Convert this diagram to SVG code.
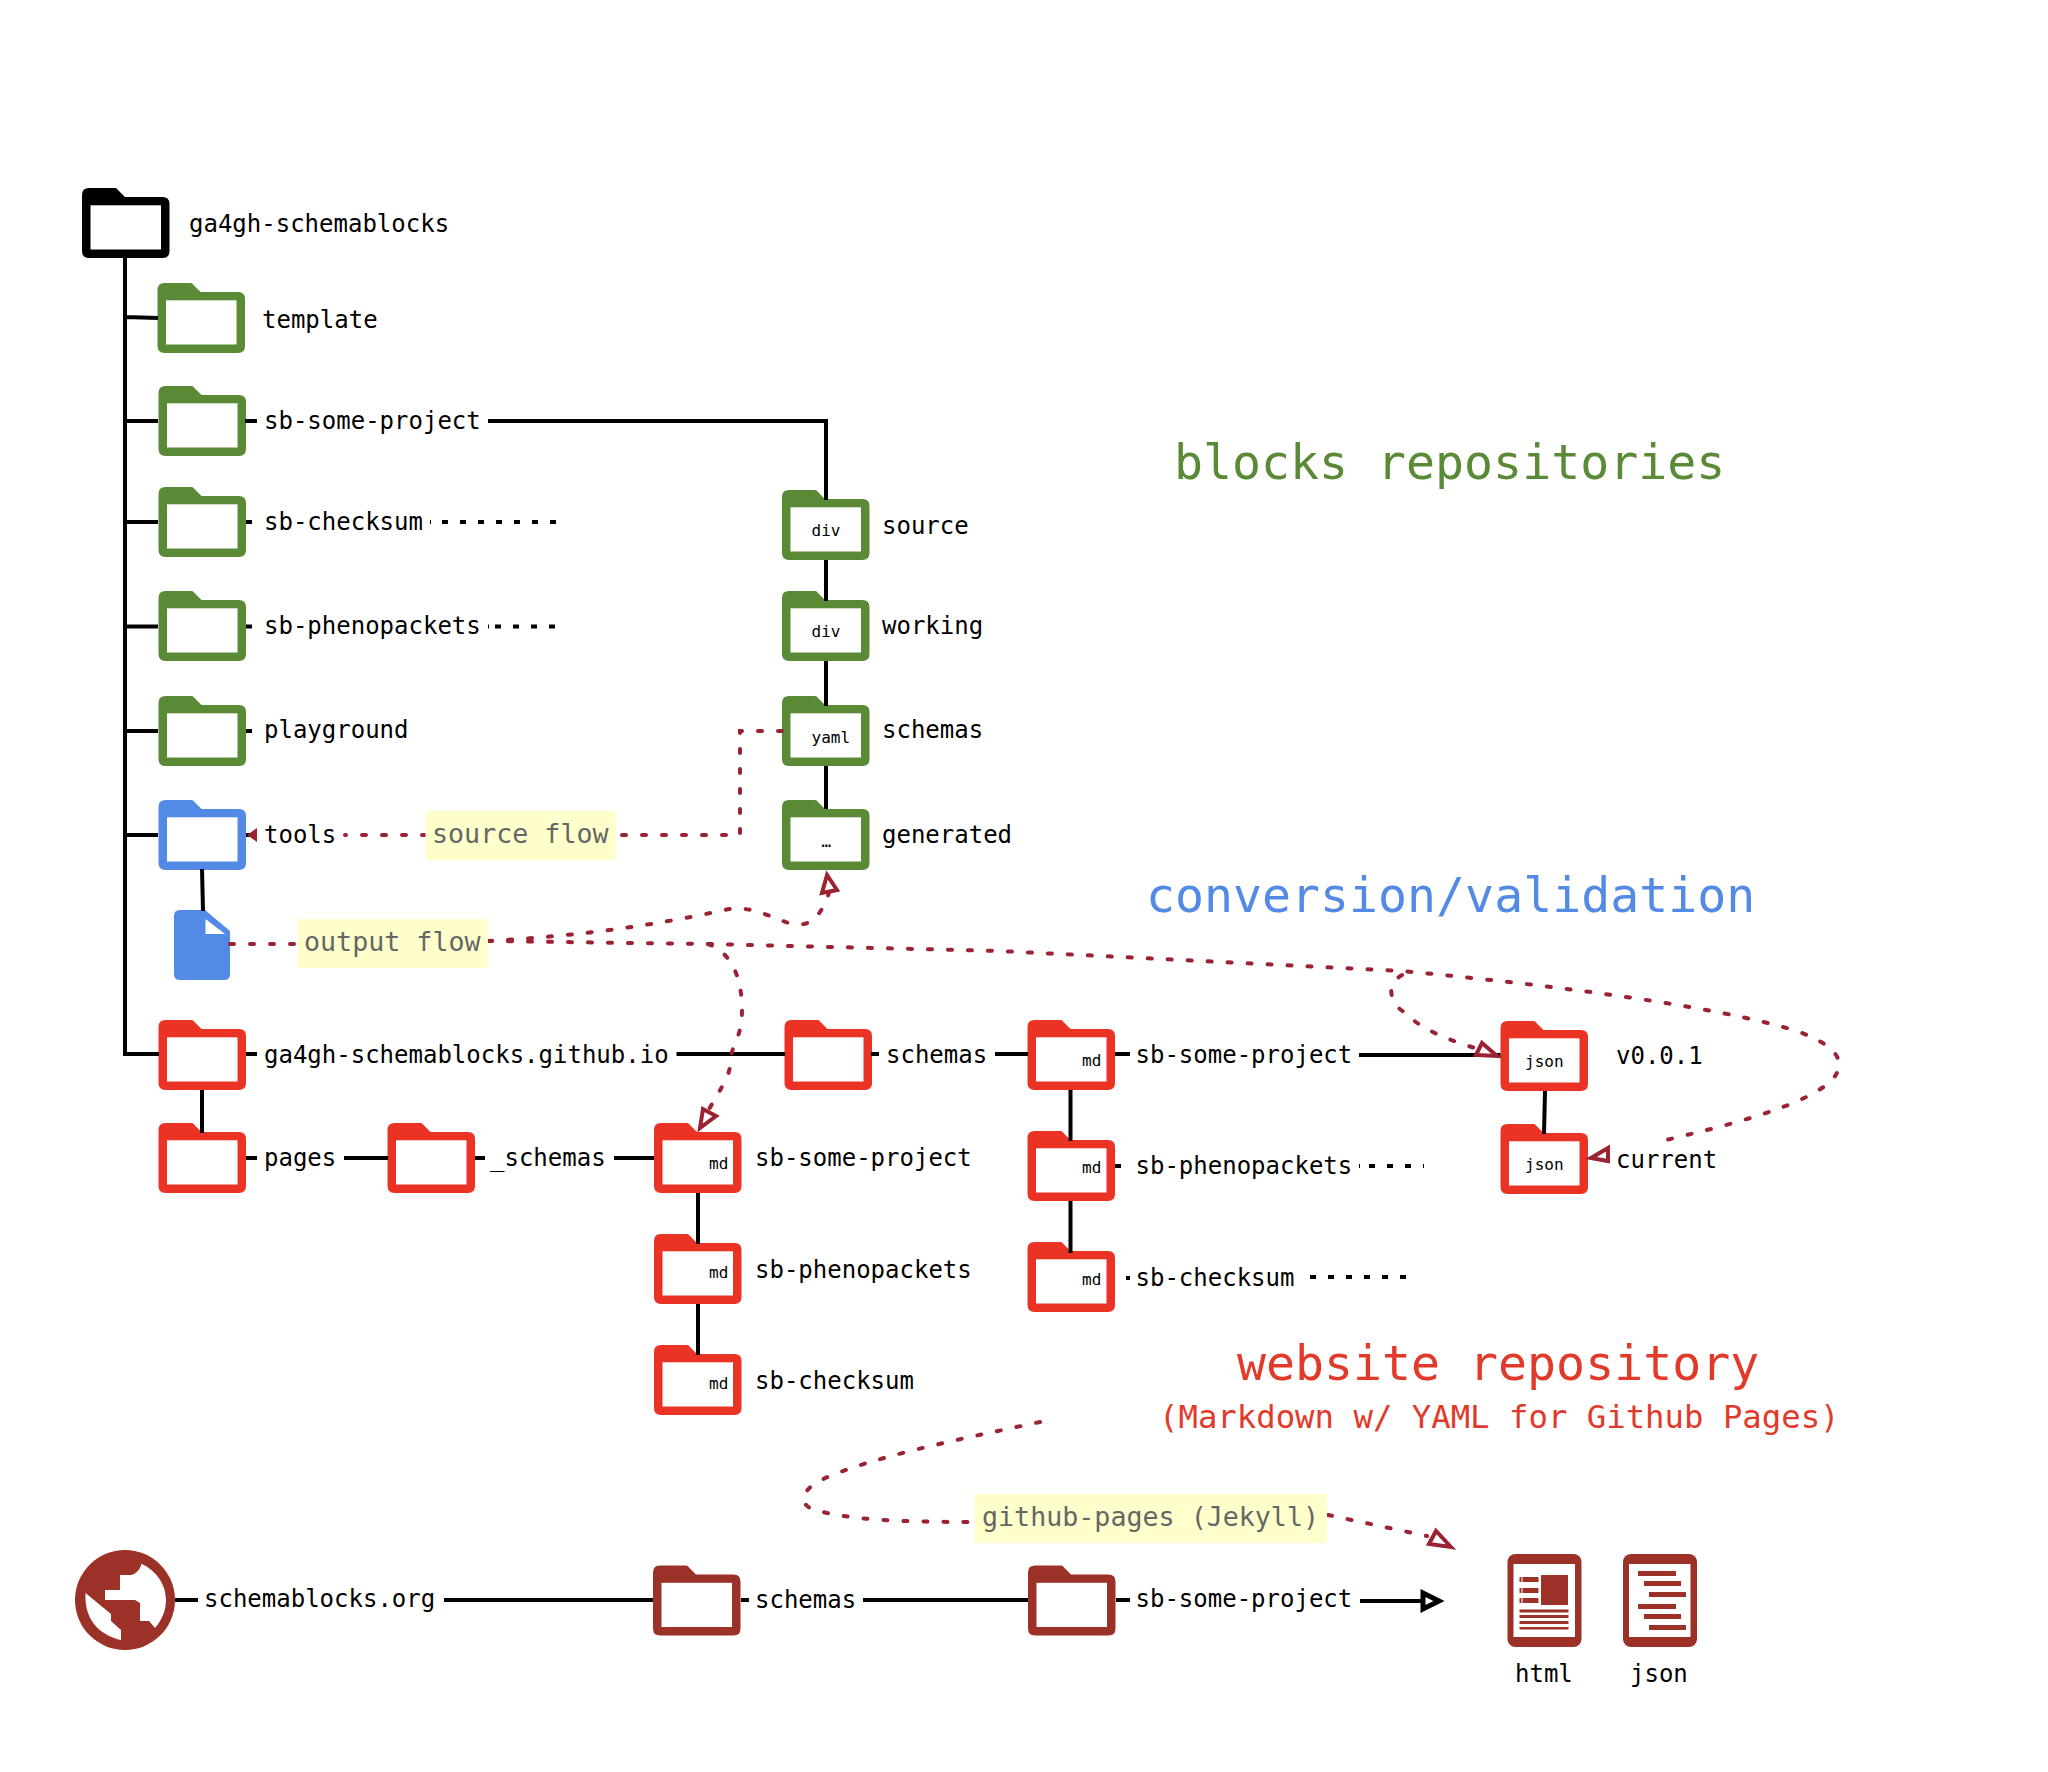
<svg xmlns="http://www.w3.org/2000/svg" width="2048" height="1772" viewBox="0 0 2048 1772">
<style>
text{font-family:"DejaVu Sans Mono","Liberation Mono",monospace;font-size:24px;fill:#000}
.k{color:#000}.g{color:#5b8a37}.b{color:#528ae6}.r{color:#ea3324}.br{color:#9c3128}
.s{font-size:16px}
.t48{font-size:48.2px}.t32{font-size:32.3px}
.fl{font-size:26.67px;fill:#666}
.box{fill:#ffffcc}
.ln{fill:none;stroke:#000;stroke-width:4}
.dot{fill:none;stroke:#000;stroke-width:4;stroke-dasharray:6 12}
.rd{fill:none;stroke:#9b2233;stroke-width:4;stroke-linecap:round;stroke-dasharray:4 16}
.ah{fill:#fff;stroke:#9b2233;stroke-width:4;stroke-linejoin:miter}
.ahf{fill:#9b2233}
</style>
<defs>
<g id="folder">
<path d="M7 0H33Q35 0 36 2L43 9H80.500Q87.500 9 87.500 16V63Q87.500 70 80.500 70H7Q0 70 0 63V7Q0 0 7 0Z" fill="currentColor"/>
<rect x="8.500" y="17.300" width="70.500" height="44.200" fill="#fff"/>
</g>
</defs>

<g id="node-root" class="k"><use href="#folder" x="82" y="188"/><text x="189" y="232">ga4gh-schemablocks</text></g>
<g id="node-template" class="g"><use href="#folder" x="157.500" y="283"/><text x="262" y="328">template</text></g>
<g id="node-sb-some-project" class="g"><use href="#folder" x="158.500" y="386"/><text x="264" y="429">sb-some-project</text></g>
<g id="node-sb-checksum" class="g"><use href="#folder" x="158.500" y="487"/><text x="264" y="530">sb-checksum</text></g>
<g id="node-sb-phenopackets" class="g"><use href="#folder" x="158.500" y="591"/><text x="264" y="634">sb-phenopackets</text></g>
<g id="node-playground" class="g"><use href="#folder" x="158.500" y="696"/><text x="264" y="738">playground</text></g>
<g id="node-tools" class="b"><use href="#folder" x="158.500" y="800"/><text x="264" y="843">tools</text></g>
<g id="node-file" class="b"><path d="M180 910H205L230 931V974Q230 980 224 980H180Q174 980 174 974V916Q174 910 180 910Z" fill="currentColor"/><path d="M205.500 919V934H225Z" fill="#fff"/></g>

<g id="node-source" class="g"><use href="#folder" x="782" y="490"/><text class="s" x="811.500" y="536">div</text><text x="882" y="534">source</text></g>
<g id="node-working" class="g"><use href="#folder" x="782" y="591"/><text class="s" x="811.500" y="637">div</text><text x="882" y="634">working</text></g>
<g id="node-schemas-g" class="g"><use href="#folder" x="782" y="696"/><text class="s" x="811.500" y="743">yaml</text><text x="882" y="738">schemas</text></g>
<g id="node-generated" class="g"><use href="#folder" x="782" y="800"/><text class="s" x="821.500" y="847">…</text><text x="882" y="843">generated</text></g>

<g id="node-github-io" class="r"><use href="#folder" x="158.500" y="1020"/><text x="264" y="1063">ga4gh-schemablocks.github.io</text></g>
<g id="node-pages" class="r"><use href="#folder" x="158.500" y="1123"/><text x="264" y="1166">pages</text></g>
<g id="node-_schemas" class="r"><use href="#folder" x="387.500" y="1123"/><text x="490" y="1166">_schemas</text></g>
<g id="node-p-some" class="r"><use href="#folder" x="654" y="1123"/><text class="s" x="709" y="1169">md</text><text x="755" y="1166">sb-some-project</text></g>
<g id="node-p-pheno" class="r"><use href="#folder" x="654" y="1234"/><text class="s" x="709" y="1278">md</text><text x="755" y="1278">sb-phenopackets</text></g>
<g id="node-p-check" class="r"><use href="#folder" x="654" y="1345"/><text class="s" x="709" y="1389">md</text><text x="755" y="1389">sb-checksum</text></g>
<g id="node-schemas-r" class="r"><use href="#folder" x="784.500" y="1020"/><text x="886" y="1063">schemas</text></g>
<g id="node-m-some" class="r"><use href="#folder" x="1027.500" y="1020"/><text class="s" x="1082" y="1066">md</text><text x="1135.500" y="1063">sb-some-project</text></g>
<g id="node-m-pheno" class="r"><use href="#folder" x="1027.500" y="1131"/><text class="s" x="1082" y="1173">md</text><text x="1135.500" y="1174">sb-phenopackets</text></g>
<g id="node-m-check" class="r"><use href="#folder" x="1027.500" y="1242"/><text class="s" x="1082" y="1285">md</text><text x="1135.500" y="1286">sb-checksum</text></g>
<g id="node-v001" class="r"><use href="#folder" x="1500.500" y="1021"/><text class="s" x="1525" y="1067">json</text><text x="1616" y="1063.500">v0.0.1</text></g>
<g id="node-current" class="r"><use href="#folder" x="1500.500" y="1124"/><text class="s" x="1525" y="1170">json</text><text x="1616" y="1167.500">current</text></g>

<g id="node-globe" class="br"><circle cx="125" cy="1600" r="50" fill="currentColor"/>
<path d="M141.600 1563.700C157 1571 166 1585 166 1600C166 1610 162 1620 155 1628L149 1621H140V1603L135 1600H105V1590H120V1575H131Q139 1573 141.600 1563.700Z" fill="#fff"/>
<path d="M85.500 1593L111 1614V1621L121 1630V1640C103 1636 84 1623 85.500 1593Z" fill="#fff"/>
<text x="204" y="1607">schemablocks.org</text></g>
<g id="node-schemas-b" class="br"><use href="#folder" x="653" y="1565.500"/><text x="755" y="1608">schemas</text></g>
<g id="node-some-b" class="br"><use href="#folder" x="1028" y="1565.500"/><text x="1135.500" y="1607">sb-some-project</text></g>
<g id="node-html" class="br"><rect x="1507.500" y="1554" width="74" height="93" rx="8" fill="currentColor"/><rect x="1513.500" y="1564" width="61.500" height="73" fill="#fff"/>
<path d="M1541 1575H1568V1605H1541ZM1519.500 1577H1521.500V1582H1519.500ZM1522.500 1577H1538.500V1582H1522.500ZM1519.500 1588H1521.500V1593H1519.500ZM1522.500 1588H1538.500V1593H1522.500ZM1519.500 1598H1521.500V1603H1519.500ZM1522.500 1598H1538.500V1603H1522.500ZM1519.500 1609.500H1568.500V1612.500H1519.500ZM1519.500 1615H1568.500V1618H1519.500ZM1519.500 1621H1568.500V1624H1519.500ZM1519.500 1627H1568.500V1629.500H1519.500Z" fill="currentColor"/>
<text x="1515" y="1682">html</text></g>
<g id="node-json" class="br"><rect x="1623" y="1554" width="74" height="93" rx="8" fill="currentColor"/><rect x="1629" y="1564" width="61.500" height="73" fill="#fff"/>
<path d="M1638 1571H1676V1576H1638ZM1644 1581H1681V1586H1644ZM1649 1592H1686V1597H1649ZM1638 1604H1676V1609H1638ZM1644 1614H1681V1619H1644ZM1649 1625H1686V1630H1649Z" fill="currentColor"/>
<text x="1630" y="1682">json</text></g>

<g id="connectors">
<path class="ln" d="M125 258V1054H159M125 317L158 318M125 421H158M125 522H158M125 626.500H158M125 731H158M125 835H158"/>
<path class="ln" d="M245 421H257M488 421H826V500M246 522H252M246 626.500H252M246 731H252M246 835H250"/>
<path class="dot" d="M430 522H431"/><path class="dot" d="M442 522H556"/><path class="dot" d="M488 626.500H489"/><path class="dot" d="M495 626.500H556"/>
<path class="ln" d="M826 560V601M826 661V706M826 766V809"/>
<path class="ln" d="M202 869L203 911M202 1090V1133M246 1054H257M676.500 1054H785M871 1054H879M995 1054H1028M246 1158H257M344 1158H388M475 1158H485M614 1158H654M698 1193V1244M698 1304V1355"/>
<path class="ln" d="M1115 1054H1130M1359 1055H1500.500M1070.500 1090V1141M1070.500 1201V1253M1545 1091L1544 1134M175 1600H198M444 1600H653M741 1600H749M863 1600H1028M1116 1600H1130M1360 1601H1426"/>
<path class="dot" d="M1115 1166H1122"/><path class="dot" d="M1359 1166H1360"/><path class="dot" d="M1369 1166H1424"/><path class="dot" d="M1126 1278H1130"/><path class="dot" d="M1310 1277H1418"/>
<polygon points="1423,1593 1439,1601 1423,1609" fill="#fff" stroke="#000" stroke-width="5"/>

<path class="rd" d="M782 731H740V835H345"/>
<polygon class="ahf" points="247,835 257,828 257,842"/>
<path class="rd" d="M230 944H300M488 941C580 936 655 925 720 911C750 903 768 917 792 924C810 927 820 918 829 893"/>
<polygon class="ah" points="827,875 822,893 837,890"/>
<path class="rd" d="M488 941L708 944C730 952 742 975 742 1010C742 1040 730 1046 730 1064C730 1076 722 1086 708 1111"/>
<polygon class="ah" points="700,1128 703,1109 716,1116"/>
<path class="rd" d="M708 944L1000 951L1402 971C1560 986 1715 1006 1797 1031C1837 1046 1847 1061 1833 1079C1807 1106 1725 1126 1666 1140"/>
<path class="rd" d="M1402 975C1383 986 1393 1006 1404 1012C1423 1031 1452 1041 1478 1049"/>
<polygon class="ah" points="1497,1056 1482,1043 1476,1055"/>
<polygon class="ah" points="1591,1158 1608,1148 1608,1161"/>
<path class="rd" d="M1040 1422C955 1440 868 1458 821 1480C797 1493 802 1505 812 1509C847 1520 900 1522 974 1522M1328 1515L1427 1536"/>
<polygon class="ah" points="1451,1547 1436,1531 1429,1544"/>
</g>

<g id="labels">
<rect class="box" x="425.500" y="811" width="190.500" height="49"/><text class="fl" x="432" y="843">source flow</text>
<rect class="box" x="298" y="919" width="190" height="49"/><text class="fl" x="304" y="951">output flow</text>
<rect class="box" x="974.500" y="1494" width="352.500" height="49"/><text class="fl" x="982" y="1526">github-pages (Jekyll)</text>
<text class="t48" x="1174" y="479" style="fill:#5b8a37">blocks repositories</text>
<text class="t48" x="1146" y="912" style="fill:#528ae6">conversion/validation</text>
<text class="t48" x="1237" y="1380" style="fill:#e23a2a">website repository</text>
<text class="t32" x="1159" y="1428" style="fill:#e23a2a">(Markdown w/ YAML for Github Pages)</text>
</g>
</svg>
